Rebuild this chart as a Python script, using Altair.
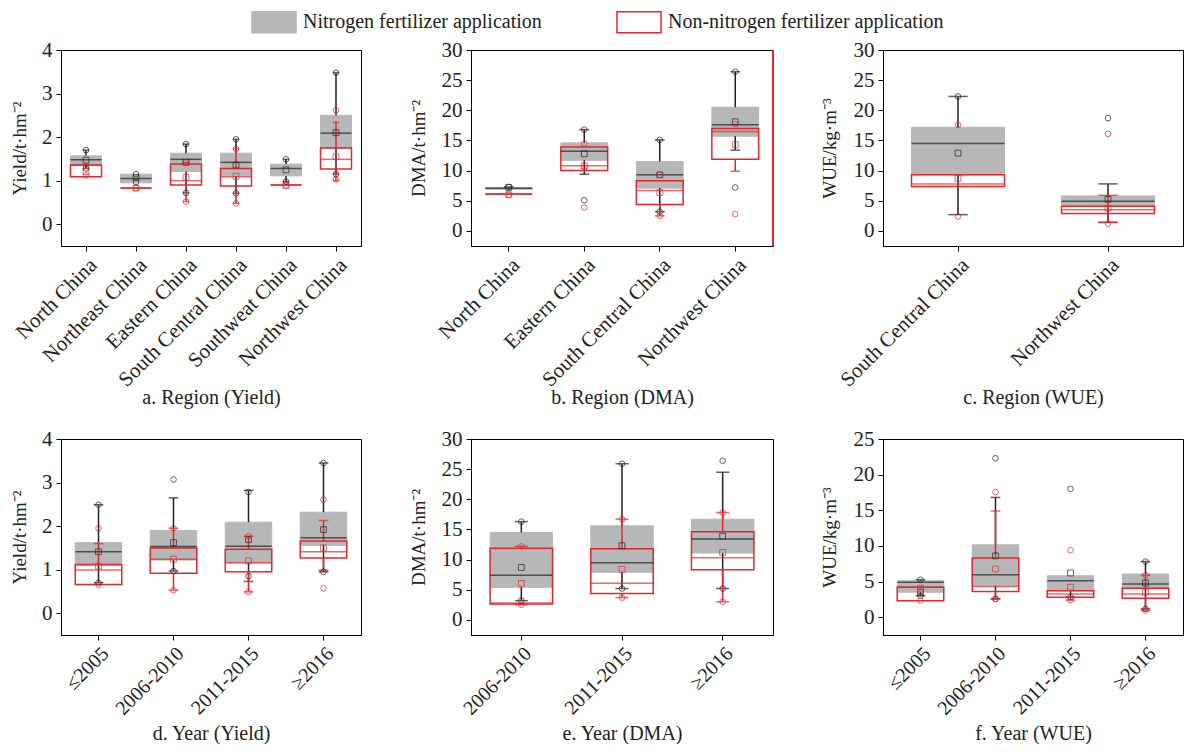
import altair as alt
import pandas as pd

SN = "Nitrogen fertilizer application"
SR = "Non-nitrogen fertilizer application"
GRAY = "#b6b7b9"
RED = "#e8262a"
DARK = "#222222"
FONT = "Liberation Serif"

# ---------------- a. Region (Yield) ----------------
a_cats = ["North China", "Northeast China", "Eastern China", "South Central China", "Southweat China", "Northwest China"]
a_nit = {"q1": [1.37, 0.95, 1.21, 1.11, 1.11, 1.75], "q3": [1.57, 1.15, 1.63, 1.63, 1.38, 2.50],
         "med": [1.48, 1.05, 1.49, 1.42, 1.28, 2.09], "mean": [1.47, 1.07, 1.42, 1.36, 1.25, 2.10],
         "lo": [1.28, 0.95, 0.72, 0.71, 0.98, 1.15], "hi": [1.70, 1.15, 1.84, 1.95, 1.49, 3.48]}
a_non = {"q1": [1.09, 0.83, 0.90, 0.88, 0.90, 1.27], "q3": [1.36, 0.83, 1.38, 1.28, 0.90, 1.75],
         "med": [1.36, 0.83, 1.00, 1.09, 0.90, 1.49], "mean": [1.21, 0.83, 1.08, 1.10, 0.89, 1.55],
         "lo": [1.09, 0.83, 0.52, 0.48, 0.90, 1.00], "hi": [1.36, 0.83, 1.42, 1.73, 0.90, 2.34]}
a_nit_pts = [("North China", 1.70), ("North China", 1.28), ("Northeast China", 1.15), ("Northeast China", 0.97),
             ("Eastern China", 1.84), ("Eastern China", 0.72), ("South Central China", 1.95),
             ("South Central China", 0.71), ("Southweat China", 1.49), ("Southweat China", 0.98),
             ("Northwest China", 3.48), ("Northwest China", 1.15)]
a_non_pts = [("North China", 1.34), ("North China", 1.12), ("Northeast China", 0.83), ("Eastern China", 1.42),
             ("Eastern China", 0.52), ("South Central China", 1.73), ("South Central China", 0.48),
             ("Southweat China", 0.89), ("Northwest China", 2.62), ("Northwest China", 1.03)]

# ---------------- b. Region (DMA) ----------------
b_cats = ["North China", "Eastern China", "South Central China", "Northwest China"]
b_nit = {"q1": [6.9, 11.7, 7.1, 15.7], "q3": [7.2, 14.6, 11.5, 20.5], "med": [7.07, 13.2, 9.3, 17.6],
         "mean": [7.2, 12.8, 9.3, 18.1], "lo": [6.9, 9.4, 3.2, 13.4], "hi": [7.3, 16.8, 15.1, 26.4]}
b_non = {"q1": [6.13, 10.0, 4.4, 11.9], "q3": [6.13, 13.9, 8.3, 17.0], "med": [6.13, 10.8, 6.7, 16.5],
         "mean": [6.0, 10.8, 6.35, 14.3], "lo": [6.13, 10.0, 2.5, 9.9], "hi": [6.13, 13.9, 8.3, 17.0]}
b_nit_pts = [("North China", 7.3), ("Eastern China", 16.8), ("Eastern China", 5.1), ("South Central China", 15.1),
             ("South Central China", 3.2), ("Northwest China", 26.4), ("Northwest China", 7.2)]
b_non_pts = [("North China", 6.0), ("Eastern China", 14.5), ("Eastern China", 10.5), ("Eastern China", 3.9),
             ("South Central China", 9.3), ("South Central China", 2.5), ("Northwest China", 17.7),
             ("Northwest China", 2.8)]

# ---------------- c. Region (WUE) ----------------
c_cats = ["South Central China", "Northwest China"]
c_nit = {"q1": [9.3, 4.1], "q3": [17.2, 5.8], "med": [14.5, 4.9], "mean": [12.9, 5.25],
         "lo": [2.7, 1.4], "hi": [22.3, 7.8]}
c_non = {"q1": [7.35, 2.9], "q3": [9.3, 4.1], "med": [7.8, 3.5], "mean": [8.7, 3.8],
         "lo": [7.35, 1.45], "hi": [9.3, 5.9]}
c_nit_pts = [("South Central China", 22.3), ("Northwest China", 18.7)]
c_non_pts = [("South Central China", 17.6), ("South Central China", 2.4), ("Northwest China", 16.1),
             ("Northwest China", 1.2)]

# ---------------- d. Year (Yield) ----------------
d_cats = ["≤2005", "2006-2010", "2011-2015", "≥2016"]
d_nit = {"q1": [1.10, 1.22, 1.16, 1.56], "q3": [1.62, 1.90, 2.09, 2.32], "med": [1.41, 1.53, 1.54, 1.73],
         "mean": [1.41, 1.62, 1.69, 1.92], "lo": [0.70, 0.97, 0.73, 0.95], "hi": [2.49, 2.65, 2.82, 3.45]}
d_non = {"q1": [0.66, 0.92, 0.95, 1.27], "q3": [1.12, 1.50, 1.47, 1.66], "med": [0.99, 1.24, 1.16, 1.41],
         "mean": [1.08, 1.24, 1.20, 1.50], "lo": [0.66, 0.53, 0.49, 0.99], "hi": [1.60, 1.95, 1.77, 2.13]}
d_nit_pts = [("≤2005", 2.49), ("≤2005", 0.70), ("2006-2010", 3.07), ("2006-2010", 0.97), ("2011-2015", 2.78),
             ("2011-2015", 0.85), ("≥2016", 3.45), ("≥2016", 0.95)]
d_non_pts = [("≤2005", 1.95), ("≤2005", 0.65), ("2006-2010", 1.95), ("2006-2010", 0.53), ("2011-2015", 1.77),
             ("2011-2015", 0.49), ("≥2016", 2.61), ("≥2016", 0.57)]

# ---------------- e. Year (DMA) ----------------
e_cats = ["2006-2010", "2011-2015", "≥2016"]
e_nit = {"q1": [5.4, 7.9, 11.1], "q3": [14.5, 15.6, 16.7], "med": [7.4, 9.5, 13.4],
         "mean": [8.7, 12.3, 13.9], "lo": [3.2, 5.2, 5.2], "hi": [16.3, 25.9, 24.5]}
e_non = {"q1": [2.65, 4.4, 8.3], "q3": [11.9, 11.8, 14.6], "med": [2.8, 6.1, 10.3],
         "mean": [6.05, 8.4, 11.2], "lo": [2.5, 3.7, 3.0], "hi": [12.2, 16.7, 17.8]}
e_nit_pts = [("2006-2010", 16.3), ("2006-2010", 3.2), ("2011-2015", 25.9), ("2011-2015", 5.2),
             ("≥2016", 26.4), ("≥2016", 5.2)]
e_non_pts = [("2006-2010", 12.2), ("2006-2010", 2.5), ("2011-2015", 16.7), ("2011-2015", 3.7),
             ("≥2016", 17.8), ("≥2016", 3.0)]

# ---------------- f. Year (WUE) ----------------
f_cats = ["≤2005", "2006-2010", "2011-2015", "≥2016"]
f_nit = {"q1": [3.5, 4.4, 3.7, 4.0], "q3": [5.1, 10.15, 5.8, 6.05], "med": [4.9, 5.96, 5.1, 4.65],
         "mean": [3.5, 8.6, 6.2, 4.8], "lo": [3.0, 2.56, 2.8, 1.16], "hi": [5.26, 16.8, 5.8, 7.8]}
f_non = {"q1": [2.3, 3.6, 2.8, 2.65], "q3": [4.2, 8.3, 3.7, 4.05], "med": [4.2, 4.3, 3.26, 3.26],
         "mean": [4.05, 6.75, 4.2, 3.5], "lo": [2.3, 2.56, 2.4, 0.93], "hi": [4.2, 14.9, 3.7, 5.9]}
f_nit_pts = [("≤2005", 5.26), ("≤2005", 3.0), ("2006-2010", 22.3), ("2006-2010", 2.56), ("2011-2015", 18.0),
             ("2011-2015", 2.8), ("≥2016", 7.8), ("≥2016", 1.16)]
f_non_pts = [("≤2005", 3.6), ("≤2005", 2.33), ("2006-2010", 17.55), ("2006-2010", 2.56), ("2011-2015", 9.4),
             ("2011-2015", 2.4), ("≥2016", 5.9), ("≥2016", 0.93)]

STATS = ["q1", "q3", "med", "mean", "lo", "hi"]

legend = alt.Legend(orient="none", legendX=201, legendY=-40, direction="horizontal", title=None,
                    symbolType="M-2,-0.95H2V0.95H-2Z", symbolSize=484, symbolStrokeWidth=1.5,
                    labelFontSize=20, labelFont=FONT, labelOffset=17, columnPadding=72, labelLimit=0,
                    labelColor=DARK)


def panel(cats, nit, non, nit_pts, non_pts, ydom, yticks, ytitle, xtitle, w, h, ytx, xty, xlab_size,
          red_edge=False):
    n = len(cats)
    bw = w / n
    data = {"cat": cats + cats, "series": [SN] * n + [SR] * n}
    for k in STATS:
        data[k] = nit[k] + non[k]
    box = pd.DataFrame(data)
    pts = pd.DataFrame({
        "cat": [c for c, _ in nit_pts] + [c for c, _ in non_pts],
        "v": [v for _, v in nit_pts] + [v for _, v in non_pts],
        "series": [SN] * len(nit_pts) + [SR] * len(non_pts),
    })
    xax = alt.Axis(title=xtitle, labelAngle=-45, labelOverlap=False, labelFontSize=xlab_size, titleFontSize=20,
                   titleFontWeight="normal", titleY=xty, titleBaseline="middle", tickSize=5, labelPadding=3,
                   domainColor="black", tickColor="black", labelColor=DARK, titleColor=DARK, grid=False,
                   labelFont=FONT, titleFont=FONT)
    X = alt.X("cat:N", scale=alt.Scale(domain=cats, paddingInner=0, paddingOuter=0), axis=xax, sort=cats)
    ys = alt.Scale(domain=ydom, nice=False, zero=False)
    yax = alt.Axis(title=ytitle, values=yticks, titleX=ytx, titleY=h / 2, titleAngle=-90, titleAlign="center",
                   titleBaseline="middle", labelFontSize=21, titleFontSize=19, titleFontWeight="normal",
                   tickSize=5, labelPadding=4, domainColor="black", tickColor="black", labelColor=DARK,
                   titleColor=DARK, grid=False, labelFont=FONT, titleFont=FONT)

    def Y(f):
        return alt.Y(f"{f}:Q", scale=ys, axis=yax)

    fill = alt.Fill("series:N", scale=alt.Scale(domain=[SN, SR], range=[GRAY, "transparent"]), legend=legend)
    stroke = alt.Stroke("series:N", scale=alt.Scale(domain=[SN, SR], range=[GRAY, RED]), legend=legend)

    base = alt.Chart(box)
    nb = base.transform_filter(alt.datum.series == SN)
    rb = base.transform_filter(alt.datum.series == SR)
    layers = []
    layers.append(nb.mark_bar(width={"band": 0.62}, strokeWidth=1).encode(x=X, y=Y("q1"), y2="q3",
                                                                         fill=fill, stroke=stroke))
    for src, col in ((nb, DARK), (rb, RED)):
        layers.append(src.transform_filter("datum.lo < datum.q1").mark_rule(color=col, strokeWidth=1.5)
                      .encode(x=X, y=Y("lo"), y2="q1"))
        layers.append(src.transform_filter("datum.hi > datum.q3").mark_rule(color=col, strokeWidth=1.5)
                      .encode(x=X, y=Y("q3"), y2="hi"))
        layers.append(src.transform_filter("datum.lo < datum.q1")
                      .mark_tick(color=col, size=bw * 0.13, thickness=1.5).encode(x=X, y=Y("lo")))
        layers.append(src.transform_filter("datum.hi > datum.q3")
                      .mark_tick(color=col, size=bw * 0.13, thickness=1.5).encode(x=X, y=Y("hi")))
    layers.append(rb.mark_bar(width={"band": 0.62}, strokeWidth=1.5).encode(x=X, y=Y("q1"), y2="q3",
                                                                           fill=fill, stroke=stroke))
    layers.append(nb.mark_tick(color=DARK, size=bw * 0.62, thickness=1.5).encode(x=X, y=Y("med")))
    layers.append(rb.mark_tick(color=RED, size=bw * 0.62, thickness=1.5).encode(x=X, y=Y("med")))
    layers.append(nb.mark_point(shape="square", size=34, filled=False, strokeWidth=1, color=DARK)
                  .encode(x=X, y=Y("mean")))
    layers.append(rb.mark_point(shape="square", size=34, filled=False, strokeWidth=1, color=RED)
                  .encode(x=X, y=Y("mean")))
    pbase = alt.Chart(pts)
    layers.append(pbase.transform_filter(alt.datum.series == SN)
                  .mark_point(shape="circle", size=32, filled=False, strokeWidth=1, color=DARK)
                  .encode(x=X, y=Y("v")))
    layers.append(pbase.transform_filter(alt.datum.series == SR)
                  .mark_point(shape="circle", size=32, filled=False, strokeWidth=1, color=RED)
                  .encode(x=X, y=Y("v")))
    if red_edge:
        layers.append(base.transform_filter(alt.datum.series == SN).mark_rule(color=RED, strokeWidth=1.5)
                      .encode(x=alt.value(w), y=alt.value(0), y2=alt.value(h)))
    return alt.layer(*layers).properties(width=w, height=h)


H = 196
GAP = 193
pa = panel(a_cats, a_nit, a_non, a_nit_pts, a_non_pts, [-0.5, 4], [0, 1, 2, 3, 4], "Yield/t·hm⁻²",
           "a. Region (Yield)", 300, H, -42, 151, 21)
pb = panel(b_cats, b_nit, b_non, b_nit_pts, b_non_pts, [-2.5, 30], [0, 5, 10, 15, 20, 25, 30], "DMA/t·hm⁻²",
           "b. Region (DMA)", 302, H, -53, 151, 21, red_edge=True)
pc = panel(c_cats, c_nit, c_non, c_nit_pts, c_non_pts, [-2.5, 30], [0, 5, 10, 15, 20, 25, 30], "WUE/kg·m⁻³",
           "c. Region (WUE)", 300, H, -54, 151, 21)
pd_ = panel(d_cats, d_nit, d_non, d_nit_pts, d_non_pts, [-0.5, 4], [0, 1, 2, 3, 4], "Yield/t·hm⁻²",
            "d. Year (Yield)", 300, H, -42, 98, 20)
pe = panel(e_cats, e_nit, e_non, e_nit_pts, e_non_pts, [-2.5, 30], [0, 5, 10, 15, 20, 25, 30], "DMA/t·hm⁻²",
           "e. Year (DMA)", 302, H, -53, 98, 20)
pf = panel(f_cats, f_nit, f_non, f_nit_pts, f_non_pts, [-2.5, 25], [0, 5, 10, 15, 20, 25], "WUE/kg·m⁻³",
           "f. Year (WUE)", 300, H, -54, 98, 20)

res = dict(x="independent", y="independent", fill="shared", stroke="shared")
row1 = alt.hconcat(pa, pb, pc, spacing=110, bounds="flush").resolve_scale(**res)
row2 = alt.hconcat(pd_, pe, pf, spacing=110, bounds="flush").resolve_scale(**res)
chart = (alt.vconcat(row1, row2, spacing=H + GAP, bounds="flush").resolve_scale(**res)
         .properties(padding={"left": 1, "top": 2, "right": 0, "bottom": 0})
         .configure(font=FONT)
         .configure_view(stroke="black", strokeWidth=1))

chart.save("out.html", embed_options={"renderer": "svg", "actions": False})
